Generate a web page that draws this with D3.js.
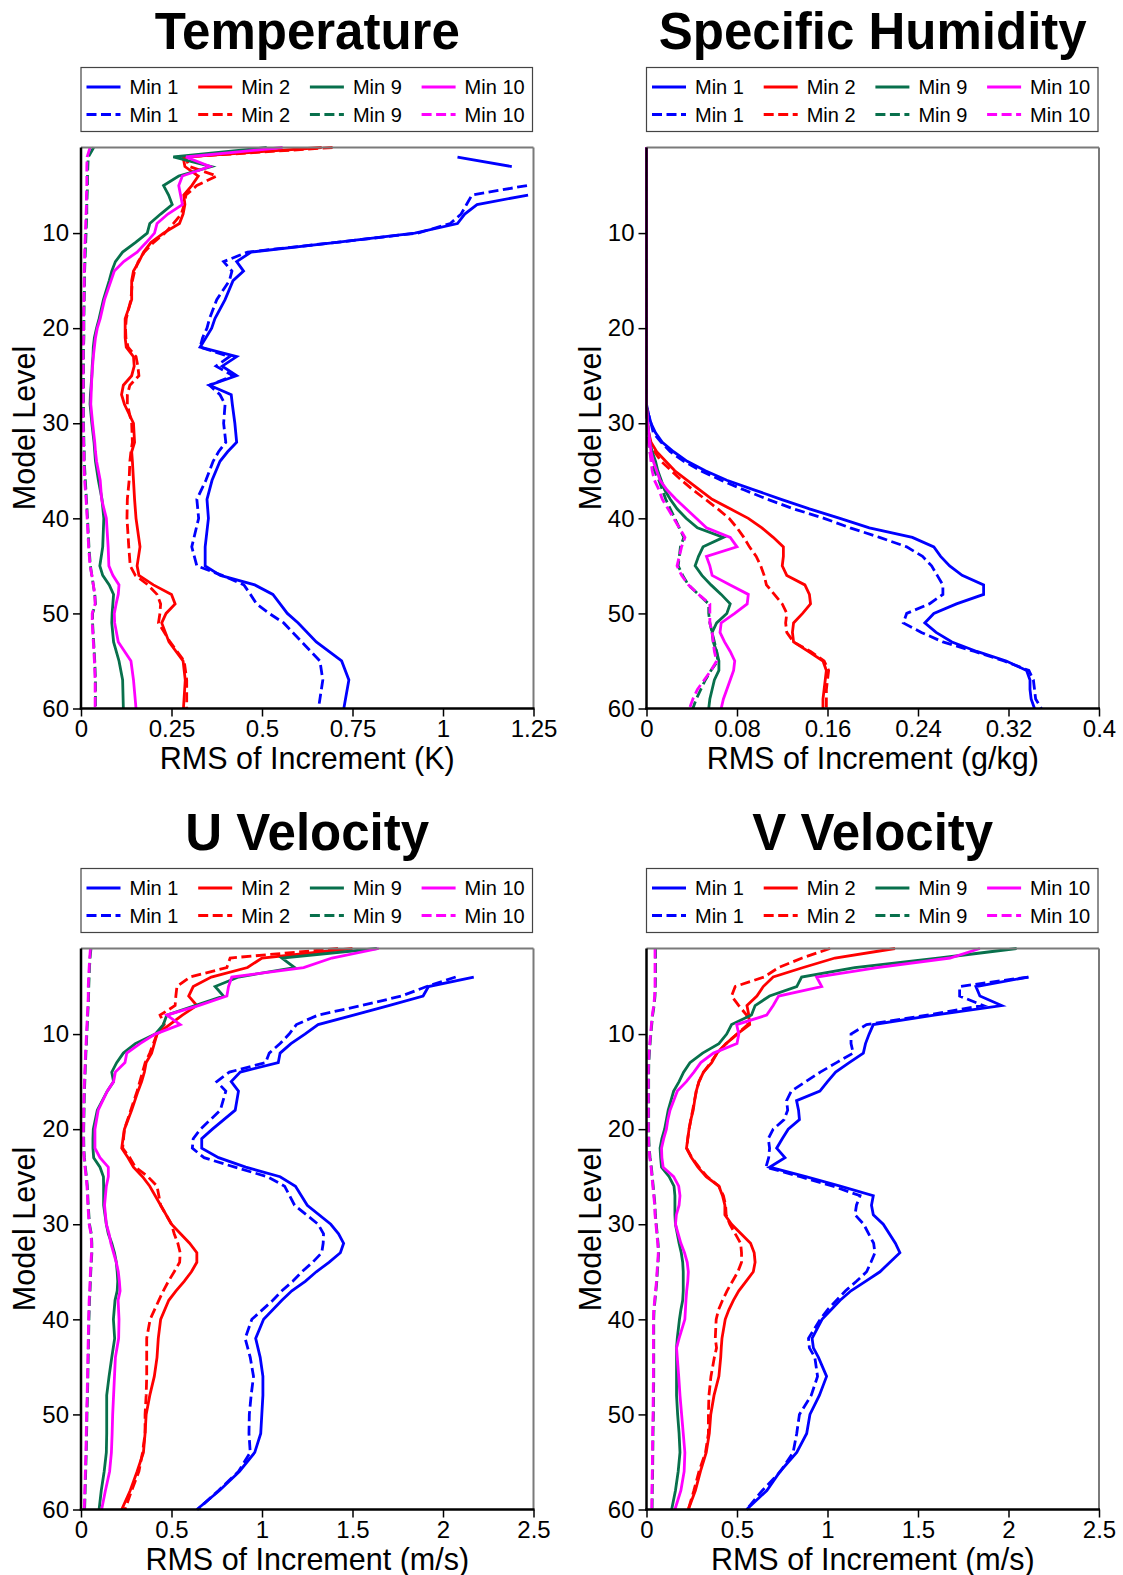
<!DOCTYPE html>
<html><head><meta charset="utf-8">
<script src="https://cdn.jsdelivr.net/npm/d3@7"></script>
<style>
body{margin:0;background:#fff}
svg{display:block}
text{font-family:"Liberation Sans",Arial,Helvetica,sans-serif}
</style>
</head><body>
<svg id="chart" width="1123" height="1575"></svg>
<script>
// ---------------- DATA ----------------
const seriesNames = ["Min 1", "Min 2", "Min 9", "Min 10"];
const seriesColors = ["#0000ff", "#ff0000", "#08704c", "#ff00ff"];
const yTicks = [10, 20, 30, 40, 50, 60];

// Temperature (K)
const tempLevels = [1,2,3,4,5,6,7,8,9,10,11,12,13,14,15,17,19,20,21,22,23,24,25,26,27,28,30,32,33,34,36,38,40,43,45,46,47,48,49,50,51,53,55,57,60];
const tempMin1 = [null,1.04,1.19,null,null,1.235,1.094,1.06,1.04,0.922,0.70,0.47,0.43,0.449,0.42, 0.398,0.37,0.361,0.345,0.329,0.43,0.39,0.43,0.355,0.415,0.418, 0.425,0.43,0.405,0.384,0.362,0.348,0.352,0.343,0.343, 0.385,0.48,0.53,0.55,0.57,0.60,0.65,0.72,0.74,0.726];
const tempMin1d = [null,null,null,null,1.232,1.08,1.065,1.05,1.02,0.93,0.70,0.46,0.394,0.417,0.41, 0.375,0.355,0.348,0.336,0.329,0.41,0.373,0.42,0.355,0.384,0.398, 0.394,0.40,0.38,0.365,0.345,0.32,0.325,0.306,0.32, 0.39,0.45,0.468,0.485,0.52,0.56,0.61,0.66,0.668,0.656];
const tempMin2 = [0.665,0.282,0.287,0.324,0.306,0.284,0.287,0.282,0.272,0.228,0.193,0.173,0.16,0.145,0.14, 0.14,0.122,0.122,0.122,0.125,0.145,0.147,0.14,0.117,0.112,0.12, 0.145,0.148,0.14,0.142,0.145,0.148,0.152,0.163,0.155, 0.16,0.20,0.25,0.26,0.235,0.223,0.243,0.282,0.288,0.283];
const tempMin2d = [0.695,0.287,0.30,0.375,0.32,0.29,0.285,0.277,0.255,0.232,0.20,0.175,0.158,0.148,0.142, 0.138,0.125,0.123,0.124,0.13,0.152,0.157,0.16,0.135,0.128,0.128, 0.14,0.142,0.138,0.135,0.133,0.128,0.127,0.132,0.136, 0.15,0.185,0.21,0.22,0.218,0.214,0.246,0.285,0.292,0.292];
const tempMin9 = [0.513,0.255,0.36,0.27,0.228,0.242,0.252,0.22,0.19,0.183,0.15,0.115,0.095,0.085,0.078, 0.062,0.05,0.043,0.037,0.034,0.033,0.031,0.03,0.028,0.026,0.025, 0.03,0.036,0.038,0.04,0.048,0.058,0.063,0.06,0.052, 0.06,0.078,0.09,0.088,0.086,0.085,0.09,0.105,0.115,0.117];
const tempMin9d = [0.035,0.02,0.019,0.018,0.018,0.017,0.016,0.016,0.015,0.014,0.013,0.012,0.011,0.01,0.01, 0.009,0.008,0.008,0.008,0.007,0.007,0.007,0.007,0.007,0.007,0.007, 0.007,0.008,0.009,0.009,0.012,0.015,0.018,0.022,0.026, 0.03,0.034,0.038,0.04,0.032,0.032,0.035,0.038,0.04,0.04];
const tempMin10 = [0.557,0.29,0.356,0.28,0.27,0.275,0.28,0.24,0.21,0.203,0.18,0.155,0.118,0.092,0.083, 0.065,0.053,0.045,0.04,0.037,0.034,0.032,0.03,0.029,0.028,0.027, 0.032,0.038,0.04,0.043,0.053,0.057,0.07,0.075,0.077, 0.088,0.105,0.103,0.097,0.092,0.093,0.103,0.138,0.145,0.152];
const tempMin10d = [0.025,0.017,0.016,0.016,0.016,0.015,0.015,0.014,0.013,0.012,0.011,0.01,0.01,0.009,0.009, 0.008,0.007,0.007,0.007,0.006,0.006,0.006,0.006,0.006,0.006,0.006, 0.006,0.007,0.008,0.008,0.01,0.014,0.017,0.021,0.025, 0.03,0.034,0.038,0.039,0.031,0.031,0.034,0.037,0.039,0.039];

// Specific humidity (g/kg)
const humLevels = [1,28,29,30,31,32,33,34,35,36,37,38,39,40,41,42,43,44,45,46,47,48,49,50,51,52,53,54,55,56,57,58,59,60];
const humMin1 = [0,0,0.0016,0.004,0.008,0.014,0.024,0.036,0.052,0.071,0.095,0.119,0.144,0.171,0.197,0.235,0.254,0.26,0.268,0.279,0.298,0.298,0.274,0.254,0.246,0.256,0.27,0.292,0.318,0.336,0.339,0.339,0.34,0.343];
const humMin1d = [0,0,0.0016,0.004,0.006,0.013,0.021,0.033,0.048,0.066,0.086,0.107,0.13,0.157,0.18,0.206,0.23,0.244,0.252,0.257,0.262,0.262,0.25,0.23,0.227,0.243,0.262,0.29,0.316,0.338,0.342,0.343,0.344,0.349];
const humMin2 = [0,0,0.0005,0.001,0.002,0.004,0.009,0.017,0.025,0.036,0.047,0.058,0.074,0.09,0.102,0.112,0.121,0.121,0.12,0.124,0.14,0.144,0.145,0.138,0.13,0.129,0.13,0.143,0.156,0.159,0.158,0.157,0.156,0.156];
const humMin2d = [0,0,0.0003,0.0008,0.001,0.002,0.007,0.013,0.022,0.031,0.041,0.052,0.063,0.073,0.08,0.086,0.091,0.097,0.101,0.104,0.106,0.113,0.12,0.124,0.123,0.124,0.13,0.145,0.157,0.161,0.16,0.159,0.159,0.159];
const humMin9 = [0,0,0.0005,0.001,0.002,0.003,0.005,0.008,0.01,0.013,0.016,0.021,0.027,0.035,0.045,0.068,0.05,0.046,0.043,0.049,0.057,0.066,0.074,0.071,0.062,0.058,0.059,0.062,0.064,0.064,0.06,0.058,0.056,0.055];
const humMin9d = [0,0,0.0003,0.0006,0.001,0.002,0.003,0.005,0.007,0.011,0.014,0.017,0.021,0.025,0.029,0.033,0.03,0.029,0.028,0.032,0.037,0.046,0.055,0.055,0.056,0.058,0.06,0.062,0.063,0.057,0.052,0.048,0.044,0.041];
const humMin10 = [0,0,0.0005,0.001,0.002,0.003,0.004,0.006,0.009,0.012,0.018,0.026,0.035,0.044,0.053,0.074,0.08,0.053,0.056,0.058,0.074,0.09,0.089,0.078,0.066,0.065,0.069,0.074,0.078,0.077,0.074,0.071,0.068,0.066];
const humMin10d = [0,0,0.0003,0.0006,0.001,0.002,0.003,0.004,0.005,0.007,0.011,0.014,0.019,0.024,0.029,0.034,0.031,0.029,0.027,0.031,0.037,0.046,0.056,0.056,0.056,0.058,0.059,0.06,0.062,0.057,0.051,0.045,0.041,0.038];

// U velocity (m/s)
const uLevels = [1,2,3,4,5,6,7,8,9,10,11,12,13,14,15,16,18,20,21,22,23,24,25,26,28,30,31,32,33,34,35,36,37,38,40,42,44,46,48,50,52,54,56,58,60];
const uMin1 = [null,null,null,2.17,1.92,1.89,1.70,1.506,1.31,1.237,1.16,1.10,1.09,0.88,0.83,0.87, 0.852,0.726,0.667,0.667,0.76,0.91,1.10,1.185, 1.25,1.38,1.423,1.451,1.433,1.37,1.30,1.239,1.165,1.11, 1.009,0.965,0.99,1.005,1.005,0.999,0.993,0.96,0.875,0.765,0.64];
const uMin1d = [null,null,null,2.07,1.91,1.77,1.55,1.31,1.19,1.15,1.10,1.04,1.02,0.82,0.75,0.80, 0.77,0.66,0.62,0.615,0.68,0.85,1.03,1.125, 1.18,1.31,1.34,1.338,1.33,1.28,1.22,1.17,1.11,1.06, 0.944,0.907,0.935,0.953,0.94,0.93,0.928,0.935,0.87,0.76,0.645];
const uMin2 = [1.50,1.0,0.92,0.72,0.62,0.595,0.64,0.56,0.49,0.42,0.405,0.39,0.36,0.35,0.335,0.315, 0.28,0.24,0.232,0.225,0.26,0.29,0.34,0.38, 0.44,0.50,0.55,0.60,0.64,0.64,0.61,0.57,0.525,0.485, 0.44,0.427,0.42,0.405,0.38,0.36,0.354,0.345,0.31,0.272,0.225];
const uMin2d = [1.42,0.824,0.806,0.603,0.53,0.524,0.52,0.437,0.46,0.42,0.40,0.38,0.355,0.34,0.325,0.31, 0.275,0.24,0.235,0.23,0.27,0.30,0.37,0.42, 0.44,0.50,0.515,0.535,0.548,0.545,0.515,0.483,0.455,0.43, 0.382,0.363,0.363,0.363,0.36,0.354,0.354,0.34,0.32,0.28,0.243];
const uMin9 = [1.635,1.11,1.18,0.87,0.741,0.787,0.63,0.474,0.455,0.41,0.30,0.234,0.197,0.17,0.18,0.145, 0.09,0.068,0.066,0.066,0.07,0.105,0.124,0.125, 0.125,0.14,0.151,0.17,0.185,0.195,0.2,0.203,0.2,0.188, 0.179,0.186,0.17,0.155,0.142,0.142,0.142,0.14,0.128,0.112,0.1];
const uMin9d = [0.055,0.05,0.047,0.045,0.043,0.042,0.04,0.037,0.035,0.032,0.03,0.027,0.025,0.023,0.021,0.019, 0.017,0.015,0.015,0.016,0.019,0.024,0.03,0.035, 0.04,0.047,0.057,0.06,0.06,0.057,0.054,0.052,0.05,0.047, 0.044,0.042,0.04,0.038,0.036,0.033,0.031,0.029,0.026,0.023,0.02];
const uMin10 = [1.645,1.386,1.23,0.833,0.815,0.806,0.649,0.474,0.548,0.41,0.326,0.253,0.243,0.19,0.18,0.145, 0.095,0.077,0.077,0.077,0.105,0.151,0.151,0.14, 0.13,0.14,0.155,0.165,0.18,0.195,0.206,0.212,0.216,0.205, 0.21,0.208,0.19,0.185,0.18,0.175,0.172,0.168,0.158,0.135,0.114];
const uMin10d = [0.052,0.048,0.045,0.042,0.04,0.04,0.038,0.035,0.033,0.03,0.028,0.025,0.023,0.021,0.019,0.017, 0.015,0.013,0.013,0.014,0.017,0.022,0.028,0.033, 0.038,0.045,0.055,0.058,0.058,0.055,0.052,0.05,0.048,0.045, 0.042,0.04,0.038,0.036,0.034,0.031,0.029,0.027,0.024,0.021,0.018];

// V velocity (m/s)
const vLevels = [1,2,3,4,5,6,7,8,9,10,11,12,13,14,15,16,17,18,19,20,21,22,23,24,25,26,27,28,29,30,32,33,34,35,36,37,38,39,40,42,43,44,46,48,50,52,54,56,58,60];
const vMin1 = [null,null,null,2.11,1.82,1.842,1.962,1.59,1.253,1.23,1.21,1.198,1.12,1.045,1.0,0.958,0.829,0.84,0.845,0.783,0.75,0.719,0.765,0.68,0.88,1.07,1.253,1.243,1.253,1.308, 1.375,1.40,1.345,1.29,1.21,1.13,1.07,1.02,0.97, 0.915,0.922,0.95, 0.995,0.955,0.903,0.885,0.83,0.738,0.665,0.553];
const vMin1d = [null,null,null,2.11,1.73,1.73,1.86,1.55,1.216,1.13,1.13,1.142,1.05,0.96,0.88,0.80,0.774,0.78,0.76,0.70,0.673,0.68,0.675,0.66,0.85,1.03,1.18,1.16,1.152,1.20, 1.255,1.262,1.24,1.216,1.16,1.10,1.05,1.0,0.96, 0.895,0.9,0.93, 0.945,0.91,0.845,0.83,0.81,0.74,0.64,0.553];
const vMin2 = [1.373,1.041,0.866,0.70,0.645,0.61,0.555,0.565,0.57,0.50,0.44,0.39,0.36,0.315,0.29,0.275,0.266,0.258,0.245,0.235,0.228,0.221,0.249,0.284,0.33,0.40,0.42,0.433,0.433,0.47, 0.575,0.595,0.6,0.59,0.55,0.51,0.48,0.455,0.435, 0.417,0.413,0.41, 0.4,0.373,0.355,0.347,0.33,0.298,0.27,0.231];
const vMin2d = [1.014,0.86,0.73,0.65,0.49,0.47,0.51,0.553,0.56,0.50,0.44,0.39,0.355,0.315,0.29,0.275,0.265,0.255,0.245,0.235,0.228,0.222,0.25,0.29,0.335,0.40,0.425,0.437,0.44,0.46, 0.52,0.525,0.525,0.505,0.475,0.445,0.42,0.398,0.385, 0.38,0.387,0.375, 0.356,0.345,0.342,0.342,0.326,0.29,0.262,0.231];
const vMin9 = [2.045,1.62,1.15,0.857,0.83,0.68,0.6,0.58,0.47,0.443,0.40,0.31,0.24,0.205,0.18,0.15,0.135,0.12,0.11,0.1,0.085,0.075,0.078,0.083,0.125,0.152,0.157,0.157,0.157,0.16, 0.18,0.192,0.2,0.203,0.203,0.203,0.2,0.19,0.182, 0.17,0.166,0.166, 0.166,0.166,0.172,0.18,0.185,0.175,0.16,0.139];
const vMin9d = [0.05,0.05,0.05,0.05,0.049,0.047,0.042,0.034,0.029,0.024,0.02,0.016,0.013,0.012,0.012,0.012,0.012,0.012,0.012,0.012,0.013,0.015,0.02,0.027,0.032,0.037,0.042,0.047,0.049,0.054, 0.064,0.067,0.064,0.06,0.057,0.052,0.047,0.042,0.04, 0.04,0.04,0.04, 0.04,0.039,0.038,0.036,0.035,0.034,0.032,0.031];
const vMin10 = [1.842,1.677,1.275,0.94,0.968,0.73,0.70,0.664,0.498,0.51,0.50,0.37,0.30,0.262,0.22,0.17,0.15,0.13,0.118,0.11,0.095,0.083,0.085,0.092,0.15,0.178,0.185,0.18,0.165,0.16, 0.19,0.21,0.225,0.231,0.228,0.222,0.218,0.215,0.212, 0.18,0.166,0.17, 0.178,0.185,0.194,0.203,0.212,0.208,0.19,0.157];
const vMin10d = [0.047,0.047,0.047,0.047,0.047,0.045,0.04,0.032,0.027,0.022,0.018,0.014,0.011,0.01,0.01,0.01,0.01,0.01,0.01,0.01,0.011,0.013,0.018,0.025,0.03,0.035,0.04,0.045,0.047,0.052, 0.062,0.065,0.062,0.058,0.055,0.05,0.045,0.04,0.038, 0.038,0.038,0.038, 0.038,0.037,0.036,0.034,0.033,0.032,0.03,0.029];

// x-axis ticks per panel
const tempTicks = [0, 0.25, 0.5, 0.75, 1, 1.25];
const humTicks = [0, 0.08, 0.16, 0.24, 0.32, 0.4];
const windTicks = [0, 0.5, 1, 1.5, 2, 2.5];

// ---------------- LAYOUT ----------------
const panels = [
  {title: "Temperature", xLabel: "RMS of Increment (K)", ticks: tempTicks, levels: tempLevels,
   solid: [tempMin1, tempMin2, tempMin9, tempMin10], dashed: [tempMin1d, tempMin2d, tempMin9d, tempMin10d],
   left: 81, top: 147.5},
  {title: "Specific Humidity", xLabel: "RMS of Increment (g/kg)", ticks: humTicks, levels: humLevels,
   solid: [humMin1, humMin2, humMin9, humMin10], dashed: [humMin1d, humMin2d, humMin9d, humMin10d],
   left: 646.5, top: 147.5},
  {title: "U Velocity", xLabel: "RMS of Increment (m/s)", ticks: windTicks, levels: uLevels,
   solid: [uMin1, uMin2, uMin9, uMin10], dashed: [uMin1d, uMin2d, uMin9d, uMin10d],
   left: 81, top: 948.5},
  {title: "V Velocity", xLabel: "RMS of Increment (m/s)", ticks: windTicks, levels: vLevels,
   solid: [vMin1, vMin2, vMin9, vMin10], dashed: [vMin1d, vMin2d, vMin9d, vMin10d],
   left: 646.5, top: 948.5}
];
const W = 452.5, H = 561;
const LW = 2.8, DASH = "10,4.5";
const FONT = '"Liberation Sans", Arial, sans-serif';

const svg = d3.select("#chart");
svg.append("rect").attr("width", 1123).attr("height", 1575).attr("fill", "#fff");

panels.forEach((p, pi) => {
  const g = svg.append("g").attr("transform", `translate(${p.left},${p.top})`);
  const x = d3.scaleLinear().domain([p.ticks[0], p.ticks[p.ticks.length - 1]]).range([0, W]);
  const y = d3.scaleLinear().domain([1, 60]).range([0, H]);

  // title
  g.append("text").attr("x", W / 2).attr("y", -99)
    .attr("text-anchor", "middle").attr("font-size", 51).attr("font-weight", "bold")
    .text(p.title);

  // legend
  const lg = g.append("g").attr("transform", "translate(0,-80)");
  lg.append("rect").attr("x", 0).attr("y", 0).attr("width", W - 1).attr("height", 64)
    .attr("fill", "#fff").attr("stroke", "#444").attr("stroke-width", 1.2);
  seriesNames.forEach((name, i) => {
    [0, 1].forEach(r => {
      const cx = 5.5 + i * 111.7, cy = 19.5 + r * 27.5;
      lg.append("line").attr("x1", cx).attr("x2", cx + 34).attr("y1", cy).attr("y2", cy)
        .attr("stroke", seriesColors[i]).attr("stroke-width", LW)
        .attr("stroke-dasharray", r ? DASH : null);
      lg.append("text").attr("x", cx + 43).attr("y", cy).attr("dy", "0.36em")
        .attr("font-size", 20).text(name);
    });
  });

  // clip
  const cid = "clip" + pi;
  g.append("clipPath").attr("id", cid).append("rect")
    .attr("x", -3).attr("y", -2).attr("width", W + 3).attr("height", H + 4);

  const lines = g.append("g").attr("clip-path", `url(#${cid})`);
  const lineGen = d3.line()
    .defined(d => d.v !== null && d.v !== undefined)
    .x(d => x(d.v)).y(d => y(d.l));

  seriesNames.forEach((name, i) => {
    [p.solid[i], p.dashed[i]].forEach((vals, k) => {
      const data = p.levels.map((l, j) => ({l: l, v: vals[j]}));
      lines.append("path").datum(data).attr("d", lineGen)
        .attr("fill", "none").attr("stroke", seriesColors[i])
        .attr("stroke-width", LW).attr("stroke-linejoin", "miter")
        .attr("stroke-dasharray", k ? DASH : null);
    });
  });

  // frame (top/right grey)
  g.append("line").attr("x1", 0).attr("x2", W).attr("y1", 0).attr("y2", 0)
    .attr("stroke", "#7a7a7a").attr("stroke-width", 2);
  g.append("line").attr("x1", W).attr("x2", W).attr("y1", 0).attr("y2", H)
    .attr("stroke", "#7a7a7a").attr("stroke-width", 2);

  // axes
  const yAxis = d3.axisLeft(y).tickValues(yTicks).tickSize(8).tickPadding(4);
  const ya = g.append("g").call(yAxis);
  ya.select(".domain").remove();
  ya.selectAll(".tick line").attr("stroke", "#000").attr("stroke-width", 1.5);
  ya.selectAll(".tick text").attr("font-size", 24).attr("fill", "#000").attr("font-family", FONT);

  const xAxis = d3.axisBottom(x).tickValues(p.ticks).tickSize(8).tickPadding(3)
    .tickFormat(d => String(d));
  const xa = g.append("g").attr("transform", `translate(0,${H})`).call(xAxis);
  xa.select(".domain").remove();
  xa.selectAll(".tick line").attr("stroke", "#000").attr("stroke-width", 1.5);
  xa.selectAll(".tick text").attr("font-size", 24).attr("fill", "#000").attr("font-family", FONT);

  g.append("line").attr("x1", 0).attr("x2", 0).attr("y1", 0).attr("y2", H + 1.2)
    .attr("stroke", "#000").attr("stroke-width", 2.5);
  g.append("line").attr("x1", -1.2).attr("x2", W + 1).attr("y1", H).attr("y2", H)
    .attr("stroke", "#000").attr("stroke-width", 2.5);

  // axis titles
  g.append("text").attr("x", W / 2).attr("y", H + 60.5).attr("text-anchor", "middle")
    .attr("font-size", 30.5).text(p.xLabel);
  g.append("text").attr("transform", `translate(-46,${H / 2}) rotate(-90)`)
    .attr("text-anchor", "middle").attr("font-size", 30.5).text("Model Level");
});
</script>
</body></html>
